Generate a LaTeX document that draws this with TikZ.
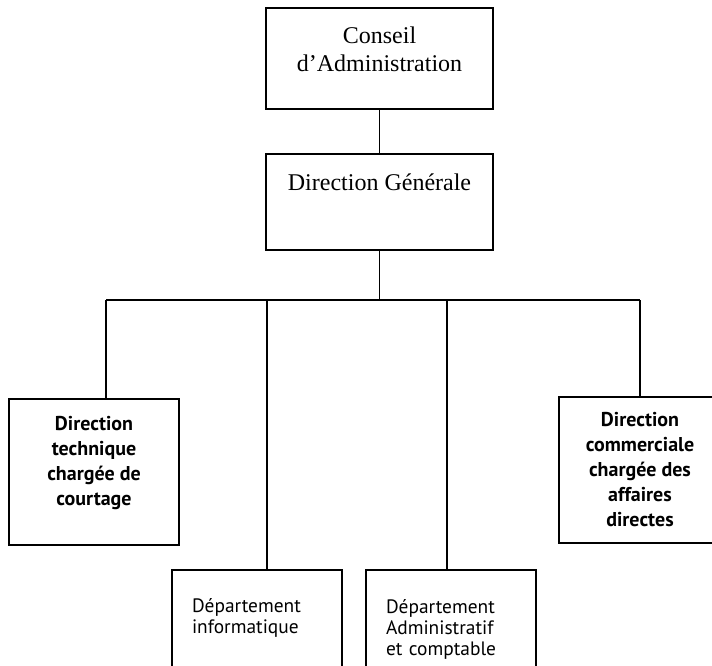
\documentclass[tikz,border=0pt]{standalone}
\usepackage{fontspec}
\setmainfont{Liberation Serif}
\newfontfamily\orgsans{PT Sans}
\usetikzlibrary{positioning}
\begin{document}
\begin{tikzpicture}[x=0.5pt,y=-0.5pt]
    \tikzset{box/.style={draw,line width=1pt,inner sep=0pt,align=center},haut/.style={box,minimum
        width=113.5pt,font=\fontsize{12}{14}\selectfont},cote/.style={box,minimum
        height=73pt,font=\orgsans\bfseries\fontsize{10}{12.5}\selectfont},dept/.style={box,align=left,
        minimum height=60pt,text width=65pt,inner xsep=10pt,font=\orgsans\fontsize{9.7}{10.5}\selectfont},
      lien/.style={line width=0.9pt}}
    \useasboundingbox (0,0) rectangle (712,665);
    \node[haut,minimum height=50.5pt,text depth=9.5pt] (ca) at (379.5,58.5) {Conseil\\d'Administration};
    \node[haut,minimum height=48pt,text depth=20pt] (dg) at (379.5,202) {Direction Générale};

    \node[cote,minimum width=85pt,text depth=10.5pt] (dt) at (94,471.5) {Direction\\technique\\chargée de\\courtage};
    \node[cote,minimum width=81pt] (dc) at (640,470) {Direction\\commerciale\\chargée des\\affaires\\directes};
    \node[dept,text depth=24pt] (di) at (257,630) {Département\\informatique};
    \node[dept,text depth=23pt] (da) at (451,629.5) {Département\\Administratif\\et comptable};

    \coordinate (t1) at (106,300);
    \coordinate (t2) at (267,300);
    \coordinate (t3) at (447,300);
    \coordinate (t4) at (640,300);

    \draw[lien] (ca) -- (dg);
    \draw[lien] (dg.south) -- (dg.south |- t1);
    \draw[lien] (t1) -- (t4);
    \foreach \bout/\cible in {t1/dt,t2/di,t3/da,t4/dc}
      \draw[lien] (\bout) -- (\bout |- \cible.north);

  \end{tikzpicture}
\end{document}
